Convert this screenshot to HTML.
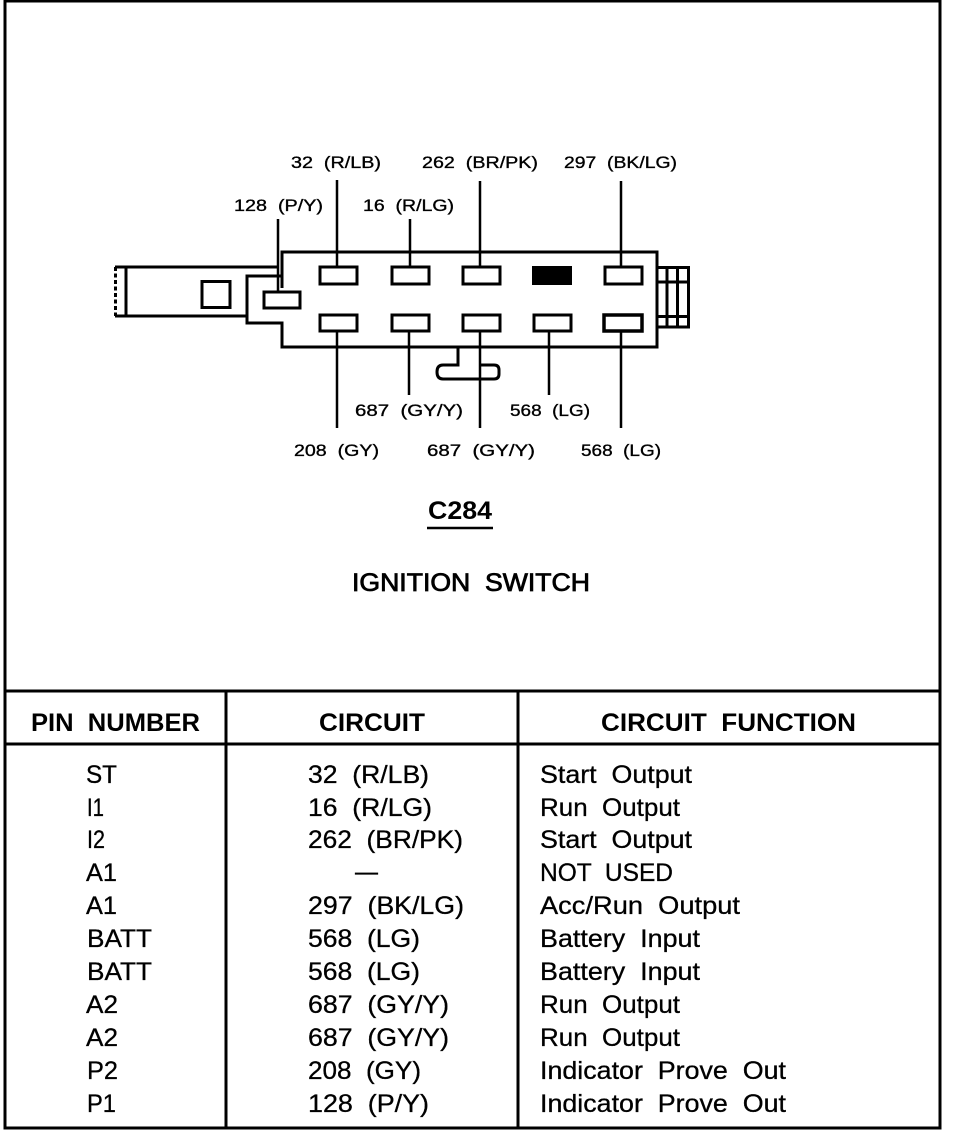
<!DOCTYPE html>
<html><head><meta charset="utf-8">
<style>
html,body{margin:0;padding:0;background:#fff}
svg{display:block}
text{font-family:"Liberation Sans",sans-serif;fill:#000;white-space:pre}
.l{font-size:17px;stroke:#000;stroke-width:.35px}
.t{font-size:25px;stroke:#000;stroke-width:.3px}
.h{font-size:25px;font-weight:bold}
</style></head><body>
<svg width="960" height="1130" viewBox="0 0 960 1130" xmlns="http://www.w3.org/2000/svg">
<g fill="none" stroke="#000" stroke-width="2">
<path d="M5 0V1128H940V0M5 1H940" stroke-width="3"/>
<path d="M5 691H940M5 744H940M226 691V1128M518 691V1128" stroke-width="3"/>
<!-- connector body -->
<path d="M282 288V252H657V347H282V323H247V276H282" stroke-width="3"/>
<path d="M278 267H115M115 316H247" stroke-width="3"/>
<path d="M126 267V316" stroke-width="3"/>
<path d="M115.500 267V316" stroke-dasharray="4 2.500" stroke-width="3"/>
<rect x="202" y="281.500" width="28" height="26" stroke-width="3"/>
<rect x="264" y="292" width="36" height="16" stroke-width="3"/>
<!-- tab right -->
<path d="M658 267.500H688.500V327H658M658 282H688.500M658 316.500H688.500M667 267V327M677.500 267V327" stroke-width="3"/>
<!-- terminals -->
<g stroke-width="3">
<rect x="320" y="267" width="37" height="17"/>
<rect x="392" y="267" width="37" height="17"/>
<rect x="463" y="267" width="37" height="17"/>
<rect x="605" y="267" width="37" height="17"/>
<rect x="320" y="315" width="37" height="16"/>
<rect x="392" y="315" width="37" height="16"/>
<rect x="463" y="315" width="37" height="16"/>
<rect x="534" y="315" width="37" height="16"/>
<rect x="604" y="315" width="38" height="16" stroke-width="3.500"/>
</g>
<rect x="532" y="266" width="40" height="19" fill="#000" stroke="none"/>
<!-- wires -->
<path d="M337 180V267M410 219V267M480 181V267M621 181V267M278 219V292" stroke-width="2.500"/>
<path d="M337 331V428M409 331V395M480 331V428M549 331V395M621 331V428" stroke-width="2.500"/>
<!-- jumper -->
<path d="M458 347V365H443Q437 365 437 372Q437 379 443 379H494Q499 379 499 374V370Q499 365 494 365H480" stroke-width="3"/>
<path d="M427 528H493" stroke-width="2.500"/>
</g>
<text class="l" x="291" y="168" textLength="90" lengthAdjust="spacingAndGlyphs">32  (R/LB)</text>
<text class="l" x="422" y="168" textLength="116" lengthAdjust="spacingAndGlyphs">262  (BR/PK)</text>
<text class="l" x="564" y="168" textLength="113" lengthAdjust="spacingAndGlyphs">297  (BK/LG)</text>
<text class="l" x="234" y="211" textLength="89" lengthAdjust="spacingAndGlyphs">128  (P/Y)</text>
<text class="l" x="363" y="211" textLength="91" lengthAdjust="spacingAndGlyphs">16  (R/LG)</text>
<text class="l" x="355" y="416" textLength="108" lengthAdjust="spacingAndGlyphs">687  (GY/Y)</text>
<text class="l" x="510" y="416" textLength="80" lengthAdjust="spacingAndGlyphs">568  (LG)</text>
<text class="l" x="294" y="456" textLength="85" lengthAdjust="spacingAndGlyphs">208  (GY)</text>
<text class="l" x="427" y="456" textLength="108" lengthAdjust="spacingAndGlyphs">687  (GY/Y)</text>
<text class="l" x="581" y="456" textLength="80" lengthAdjust="spacingAndGlyphs">568  (LG)</text>
<text class="h" x="428" y="519" textLength="64" lengthAdjust="spacingAndGlyphs">C284</text>
<text class="t" x="352" y="591" textLength="238" lengthAdjust="spacingAndGlyphs" style="stroke-width:.8px">IGNITION  SWITCH</text>
<text class="h" x="31" y="731" textLength="169" lengthAdjust="spacingAndGlyphs">PIN  NUMBER</text>
<text class="h" x="319" y="731" textLength="106" lengthAdjust="spacingAndGlyphs">CIRCUIT</text>
<text class="h" x="601" y="731" textLength="255" lengthAdjust="spacingAndGlyphs">CIRCUIT  FUNCTION</text>
<g>
<text class="t" x="86" y="783" textLength="31" lengthAdjust="spacingAndGlyphs">ST</text>
<text class="t" x="87" y="816" textLength="17" lengthAdjust="spacingAndGlyphs">I1</text>
<text class="t" x="87" y="848" textLength="18" lengthAdjust="spacingAndGlyphs">I2</text>
<text class="t" x="86" y="881" textLength="31" lengthAdjust="spacingAndGlyphs">A1</text>
<text class="t" x="86" y="914" textLength="31" lengthAdjust="spacingAndGlyphs">A1</text>
<text class="t" x="87" y="947" textLength="65" lengthAdjust="spacingAndGlyphs">BATT</text>
<text class="t" x="87" y="980" textLength="65" lengthAdjust="spacingAndGlyphs">BATT</text>
<text class="t" x="86" y="1013" textLength="32" lengthAdjust="spacingAndGlyphs">A2</text>
<text class="t" x="86" y="1046" textLength="32" lengthAdjust="spacingAndGlyphs">A2</text>
<text class="t" x="87" y="1079" textLength="31" lengthAdjust="spacingAndGlyphs">P2</text>
<text class="t" x="87" y="1112" textLength="29" lengthAdjust="spacingAndGlyphs">P1</text>

<text class="t" x="308" y="783" textLength="121" lengthAdjust="spacingAndGlyphs">32  (R/LB)</text>
<text class="t" x="308" y="816" textLength="124" lengthAdjust="spacingAndGlyphs">16  (R/LG)</text>
<text class="t" x="308" y="848" textLength="155" lengthAdjust="spacingAndGlyphs">262  (BR/PK)</text>
<text class="t" x="355" y="880" textLength="23" lengthAdjust="spacingAndGlyphs">—</text>
<text class="t" x="308" y="914" textLength="156" lengthAdjust="spacingAndGlyphs">297  (BK/LG)</text>
<text class="t" x="308" y="947" textLength="112" lengthAdjust="spacingAndGlyphs">568  (LG)</text>
<text class="t" x="308" y="980" textLength="112" lengthAdjust="spacingAndGlyphs">568  (LG)</text>
<text class="t" x="308" y="1013" textLength="141" lengthAdjust="spacingAndGlyphs">687  (GY/Y)</text>
<text class="t" x="308" y="1046" textLength="141" lengthAdjust="spacingAndGlyphs">687  (GY/Y)</text>
<text class="t" x="308" y="1079" textLength="113" lengthAdjust="spacingAndGlyphs">208  (GY)</text>
<text class="t" x="308" y="1112" textLength="121" lengthAdjust="spacingAndGlyphs">128  (P/Y)</text>

<text class="t" x="540" y="783" textLength="152" lengthAdjust="spacingAndGlyphs">Start  Output</text>
<text class="t" x="540" y="816" textLength="140" lengthAdjust="spacingAndGlyphs">Run  Output</text>
<text class="t" x="540" y="848" textLength="152" lengthAdjust="spacingAndGlyphs">Start  Output</text>
<text class="t" x="540" y="881" textLength="133" lengthAdjust="spacingAndGlyphs">NOT  USED</text>
<text class="t" x="540" y="914" textLength="200" lengthAdjust="spacingAndGlyphs">Acc/Run  Output</text>
<text class="t" x="540" y="947" textLength="160" lengthAdjust="spacingAndGlyphs">Battery  Input</text>
<text class="t" x="540" y="980" textLength="160" lengthAdjust="spacingAndGlyphs">Battery  Input</text>
<text class="t" x="540" y="1013" textLength="140" lengthAdjust="spacingAndGlyphs">Run  Output</text>
<text class="t" x="540" y="1046" textLength="140" lengthAdjust="spacingAndGlyphs">Run  Output</text>
<text class="t" x="540" y="1079" textLength="246" lengthAdjust="spacingAndGlyphs">Indicator  Prove  Out</text>
<text class="t" x="540" y="1112" textLength="246" lengthAdjust="spacingAndGlyphs">Indicator  Prove  Out</text>
</g>
</svg>
</body></html>
